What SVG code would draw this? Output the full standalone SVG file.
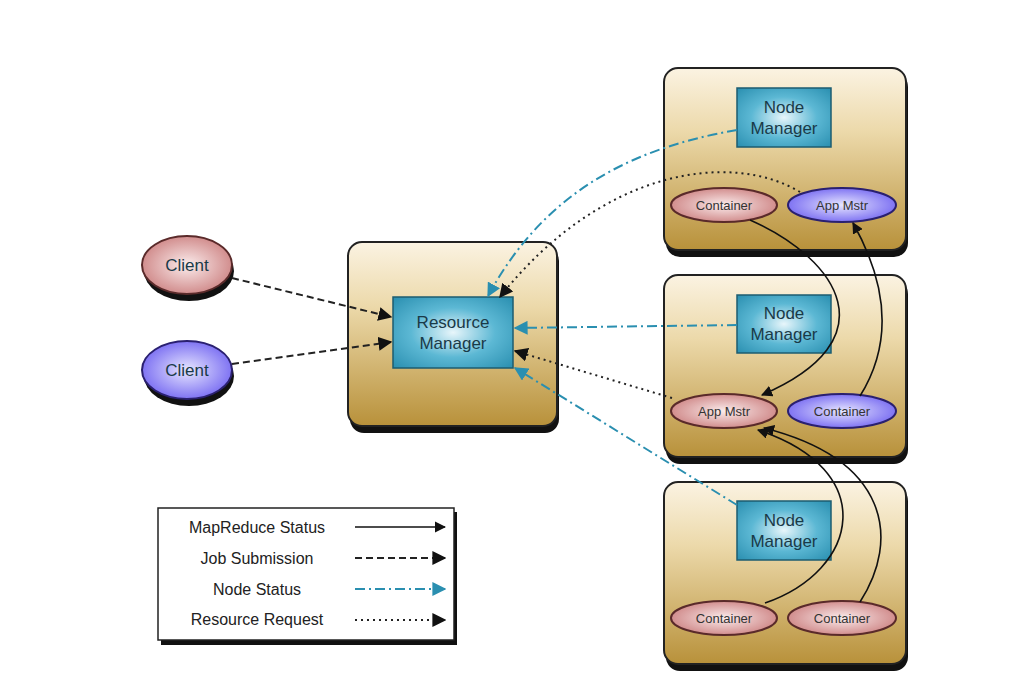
<svg xmlns="http://www.w3.org/2000/svg" width="1012" height="698" viewBox="0 0 1012 698">
<defs>
<linearGradient id="gold" x1="0" y1="0" x2="0" y2="1"><stop offset="0" stop-color="#fbf3e2"/><stop offset="0.35" stop-color="#ecd9aa"/><stop offset="1" stop-color="#b8913a"/></linearGradient>
<radialGradient id="blue" cx="0.5" cy="0.5" r="0.7"><stop offset="0" stop-color="#e8f6fb"/><stop offset="0.5" stop-color="#5cb8d4"/><stop offset="1" stop-color="#2a8fb0"/></radialGradient>
<radialGradient id="red" cx="0.5" cy="0.5" r="0.6"><stop offset="0" stop-color="#fbecec"/><stop offset="1" stop-color="#c97a7a"/></radialGradient>
<radialGradient id="purp" cx="0.5" cy="0.5" r="0.6"><stop offset="0" stop-color="#e7e6ff"/><stop offset="1" stop-color="#6a5cf0"/></radialGradient>
<marker id="ak" viewBox="0 0 10 10" refX="9" refY="5" markerWidth="7" markerHeight="7" orient="auto"><path d="M0,0L10,5L0,10z" fill="#111"/></marker>
<marker id="at" viewBox="0 0 10 10" refX="9" refY="5" markerWidth="7" markerHeight="7" orient="auto"><path d="M0,0L10,5L0,10z" fill="#2a8fb0"/></marker>
</defs>
<style>
.box{fill:url(#gold);stroke:#222;stroke-width:2}
.sh{fill:#111}
.inner{fill:url(#blue);stroke:#1d5c70;stroke-width:1.5}
.t{font-family:"Liberation Sans",Arial,sans-serif;font-size:17px;fill:#1a3a48;text-anchor:middle}
.s{font-family:"Liberation Sans",Arial,sans-serif;font-size:13px;fill:#333;text-anchor:middle}
.l{font-family:"Liberation Sans",Arial,sans-serif;font-size:16px;fill:#222;text-anchor:middle}
.er{fill:url(#red);stroke:#5a2a2a;stroke-width:2}
.ep{fill:url(#purp);stroke:#2a2070;stroke-width:2}
.solid{fill:none;stroke:#111;stroke-width:1.6;marker-end:url(#ak)}
.dash{fill:none;stroke:#222;stroke-width:2;stroke-dasharray:7,4;marker-end:url(#ak)}
.dot{fill:none;stroke:#222;stroke-width:2;stroke-dasharray:2,4;marker-end:url(#ak)}
.dd{fill:none;stroke:#2a8fb0;stroke-width:2;stroke-dasharray:10,4,2,4;marker-end:url(#at)}
</style>
<rect width="1012" height="698" fill="#fff"/>
<g id="rm"><rect class="sh" x="350" y="247" width="209" height="186" rx="14"/><rect class="box" x="348" y="242" width="209" height="184" rx="14"/><rect class="inner" x="393" y="297" width="120" height="71"/><text class="t" x="453" y="328">Resource</text><text class="t" x="453" y="349">Manager</text></g>
<g id="n1"><rect class="sh" x="666" y="73" width="242" height="184" rx="14"/><rect class="box" x="664" y="68" width="242" height="182" rx="14"/><rect class="inner" x="737" y="88" width="94" height="59"/><text class="t" x="784" y="113">Node</text><text class="t" x="784" y="134">Manager</text></g>
<g id="n2"><rect class="sh" x="666" y="280" width="242" height="184" rx="14"/><rect class="box" x="664" y="275" width="242" height="182" rx="14"/><rect class="inner" x="737" y="295" width="94" height="58"/><text class="t" x="784" y="319">Node</text><text class="t" x="784" y="340">Manager</text></g>
<g id="n3"><rect class="sh" x="666" y="487" width="242" height="184" rx="14"/><rect class="box" x="664" y="482" width="242" height="182" rx="14"/><rect class="inner" x="737" y="501" width="94" height="59"/><text class="t" x="784" y="526">Node</text><text class="t" x="784" y="547">Manager</text></g>
<g id="c1"><ellipse class="er" cx="724" cy="205" rx="53" ry="17"/><text class="s" x="724" y="210">Container</text></g>
<g id="am1"><ellipse class="ep" cx="842" cy="205" rx="54" ry="17"/><text class="s" x="842" y="210">App Mstr</text></g>
<g id="am2"><ellipse class="er" cx="724" cy="411" rx="53" ry="17"/><text class="s" x="724" y="416">App Mstr</text></g>
<g id="c2"><ellipse class="ep" cx="842" cy="411" rx="54" ry="17"/><text class="s" x="842" y="416">Container</text></g>
<g id="c3"><ellipse class="er" cx="724" cy="618" rx="53" ry="17"/><text class="s" x="724" y="623">Container</text></g>
<g id="c4"><ellipse class="er" cx="842" cy="618" rx="54" ry="17"/><text class="s" x="842" y="623">Container</text></g>
<g id="cl1"><ellipse cx="189" cy="271" rx="45" ry="30" fill="#111"/><ellipse class="er" cx="187" cy="265" rx="45" ry="29"/><text class="t" x="187" y="271" fill="#333">Client</text></g>
<g id="cl2"><ellipse cx="189" cy="376" rx="45" ry="30" fill="#111"/><ellipse class="ep" cx="187" cy="370" rx="45" ry="29"/><text class="t" x="187" y="376">Client</text></g>
<g id="connectors">
<path class="dash" d="M232,278 L391,317"/>
<path class="dash" d="M232,364 L391,342"/>
<path class="dd" d="M737,130 C620,150 540,200 488,296"/>
<path class="dot" d="M800,192 C730,150 600,170 500,297"/>
<path class="dd" d="M737,325 L515,328"/>
<path class="dot" d="M672,398 L515,351"/>
<path class="dd" d="M737,505 L515,368"/>
<path class="solid" d="M750,220 C840,260 890,340 762,395"/>
<path class="solid" d="M860,396 C895,340 885,280 853,223"/>
<path class="solid" d="M765,603 C860,570 880,470 758,430"/>
<path class="solid" d="M860,602 C900,540 890,460 764,428"/>
</g>
<g id="legend"><rect x="161" y="512" width="296" height="133" fill="#111"/><rect x="158" y="508" width="296" height="132" fill="#fff" stroke="#222" stroke-width="1.5"/>
<text class="l" x="257" y="533">MapReduce Status</text><path class="solid" d="M355,527 L445,527"/>
<text class="l" x="257" y="564">Job Submission</text><path class="dash" d="M355,558 L445,558"/>
<text class="l" x="257" y="595">Node Status</text><path class="dd" d="M355,589 L445,589"/>
<text class="l" x="257" y="625">Resource Request</text><path class="dot" d="M355,620 L445,620"/></g>
</svg>
